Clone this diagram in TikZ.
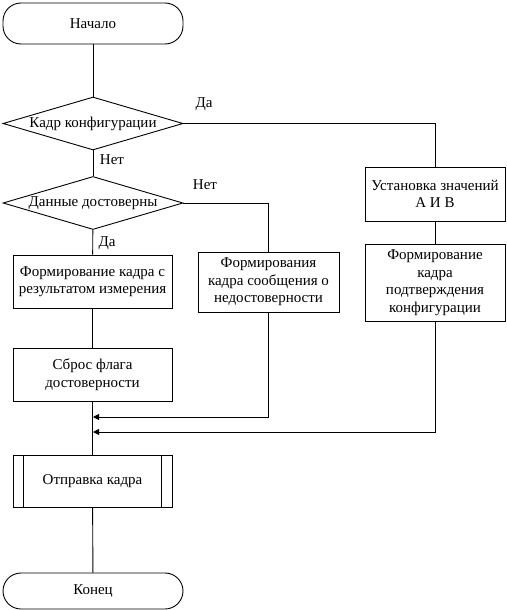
\documentclass[tikz,border=0pt]{standalone}
\usepackage{fontspec}
\setmainfont{Liberation Serif}
\usetikzlibrary{shapes.geometric,arrows.meta}
\begin{document}
\begin{tikzpicture}[x=1pt,y=-1pt,
  every node/.style={font=\fontsize{15}{17.5}\selectfont},
  ln/.style={line width=0.9pt},
  term/.style={draw,ln,rectangle,rounded corners=18pt,minimum width=180pt,align=center},
  proc/.style={draw,ln,rectangle,minimum width=159pt,minimum height=53pt,align=center,inner sep=1pt},
  dec/.style={draw,ln,diamond,aspect=3.4,minimum width=180pt,minimum height=53pt,inner sep=0pt},
  lbl/.style={inner sep=0pt},
  arr/.style={ln,-{Triangle[length=6pt,width=6pt]}}]
\useasboundingbox (0,0) rectangle (506,610);
\node[term,minimum height=41pt] (start) at (93,23.5) {Начало};
\node[dec,label={[lbl]center:Кадр конфигурации}] (d1) at (93,123.5) {};
\node[dec,label={[lbl]center:Данные достоверны}] (d2) at (93,203) {};
\node[proc,minimum width=140pt,minimum height=54pt] (s1) at (435,194) {Установка значений\\А И В};
\node[proc,minimum width=140pt,minimum height=77pt] (s2) at (435,282.5) {Формирование\\кадра\\подтверждения\\конфигурации};
\node[proc,minimum width=141pt,minimum height=60pt] (n1) at (268.5,282) {Формирования\\кадра сообщения о\\недостоверности};
\node[proc] (y1) at (92.5,281.5) {Формирование кадра с\\результатом измерения};
\node[proc] (y2) at (92.5,374.5) {Сброс флага\\достоверности};
\node[proc,minimum height=52pt] (send) at (92.5,481) {Отправка кадра};
\draw[ln] ([xshift=11pt]send.north west) -- ([xshift=11pt]send.south west);
\draw[ln] ([xshift=-11pt]send.north east) -- ([xshift=-11pt]send.south east);
\node[term,minimum height=36pt] (end) at (93,591) {Конец};
\coordinate (m1) at (93,417);
\coordinate (m2) at (93,432);
\node[lbl] (la) at (204,104) {Да};
\node[lbl] (lb) at (112,160) {Нет};
\node[lbl] (lc) at (205,185) {Нет};
\node[lbl] (ld) at (107,243) {Да};
\draw[ln] (start) -- (d1);
\draw[ln] (d1) -- (d2);
\draw[ln] (d2) -- (y1);
\draw[ln] (y1) -- (y2);
\draw[ln] (y2) -- (send);
\draw[ln] (send) -- (end);
\draw[ln] (d1.east) -| (s1.north);
\draw[ln] (s1) -- (s2);
\draw[ln] (d2.east) -| (n1.north);
\draw[arr] (n1.south) |- (m1);
\draw[arr] (s2.south) |- (m2);
\end{tikzpicture}
\end{document}
